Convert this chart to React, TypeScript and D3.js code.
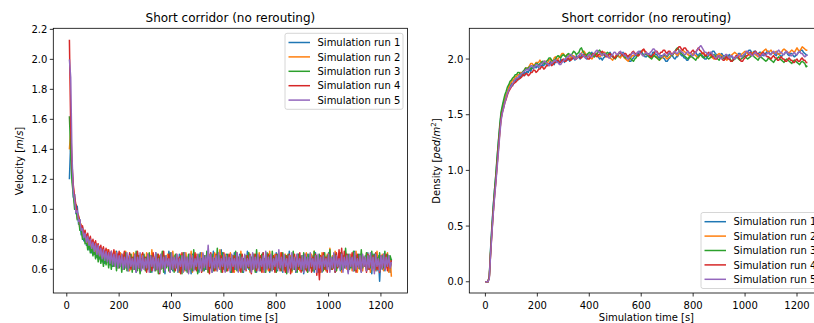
import React from "react";
import * as d3 from "d3";

// ---------- DATA ----------
const runNames = ["Simulation run 1", "Simulation run 2", "Simulation run 3", "Simulation run 4", "Simulation run 5"];
const runColors = ["#1f77b4", "#ff7f0e", "#2ca02c", "#d62728", "#9467bd"];

// velocity [m/s] sampled every 5 s starting at t = 10 s
const velocityStart = 10;
const velocityStep = 5;
const velocityRun1 = [
  1.20, 1.45, 1.28, 1.08, 1.10, 0.97, 1.02, 0.90, 0.93, 0.83, 0.88, 0.79, 0.85, 0.76, 0.81, 0.73, 0.79, 0.71, 0.78, 0.70,
  0.76, 0.68, 0.75, 0.67, 0.74, 0.65, 0.73, 0.64, 0.72, 0.66, 0.70, 0.63, 0.71, 0.62, 0.69, 0.64, 0.72, 0.61, 0.70, 0.63,
  0.69, 0.60, 0.71, 0.62, 0.68, 0.59, 0.70, 0.63, 0.67, 0.60, 0.69, 0.58, 0.71, 0.61, 0.68, 0.60, 0.70, 0.62, 0.67, 0.59,
  0.70, 0.61, 0.68, 0.58, 0.69, 0.62, 0.71, 0.60, 0.67, 0.59, 0.70, 0.61, 0.68, 0.57, 0.69, 0.62, 0.72, 0.60, 0.66, 0.59,
  0.69, 0.61, 0.67, 0.58, 0.70, 0.62, 0.68, 0.60, 0.71, 0.59, 0.67, 0.61, 0.69, 0.57, 0.70, 0.62, 0.66, 0.60, 0.68, 0.58,
  0.71, 0.61, 0.67, 0.59, 0.69, 0.62, 0.70, 0.60, 0.68, 0.58, 0.72, 0.61, 0.67, 0.59, 0.69, 0.62, 0.73, 0.60, 0.68, 0.59,
  0.70, 0.62, 0.67, 0.58, 0.69, 0.61, 0.71, 0.60, 0.68, 0.59, 0.70, 0.62, 0.66, 0.58, 0.69, 0.61, 0.72, 0.60, 0.67, 0.59,
  0.70, 0.61, 0.68, 0.58, 0.69, 0.62, 0.67, 0.60, 0.71, 0.59, 0.68, 0.61, 0.70, 0.58, 0.67, 0.62, 0.69, 0.60, 0.71, 0.59,
  0.68, 0.61, 0.70, 0.58, 0.67, 0.62, 0.69, 0.60, 0.72, 0.59, 0.68, 0.61, 0.66, 0.58, 0.70, 0.62, 0.68, 0.60, 0.69, 0.57,
  0.67, 0.61, 0.70, 0.59, 0.68, 0.62, 0.69, 0.58, 0.71, 0.60, 0.67, 0.61, 0.69, 0.58, 0.70, 0.62, 0.68, 0.59, 0.71, 0.60,
  0.67, 0.62, 0.70, 0.58, 0.68, 0.61, 0.69, 0.59, 0.71, 0.60, 0.68, 0.62, 0.70, 0.58, 0.67, 0.61, 0.69, 0.59, 0.72, 0.60,
  0.68, 0.61, 0.70, 0.58, 0.67, 0.62, 0.69, 0.59, 0.71, 0.60, 0.68, 0.57, 0.70, 0.61, 0.66, 0.59, 0.69, 0.52, 0.68, 0.60,
  0.70, 0.59, 0.68, 0.61, 0.69, 0.58, 0.67];
const velocityRun2 = [
  1.40, 1.52, 1.24, 1.14, 1.04, 1.02, 0.94, 0.96, 0.87, 0.90, 0.82, 0.86, 0.79, 0.83, 0.76, 0.81, 0.74, 0.79, 0.72, 0.78,
  0.70, 0.77, 0.68, 0.75, 0.66, 0.74, 0.67, 0.72, 0.64, 0.73, 0.65, 0.71, 0.63, 0.70, 0.62, 0.72, 0.64, 0.69, 0.61, 0.71,
  0.62, 0.70, 0.60, 0.72, 0.63, 0.68, 0.59, 0.70, 0.62, 0.71, 0.60, 0.67, 0.61, 0.69, 0.58, 0.70, 0.62, 0.68, 0.60, 0.71,
  0.61, 0.69, 0.59, 0.73, 0.62, 0.68, 0.60, 0.70, 0.58, 0.69, 0.61, 0.71, 0.60, 0.67, 0.62, 0.70, 0.59, 0.68, 0.61, 0.72,
  0.60, 0.69, 0.62, 0.67, 0.58, 0.70, 0.61, 0.68, 0.59, 0.71, 0.62, 0.69, 0.60, 0.72, 0.58, 0.68, 0.61, 0.70, 0.60, 0.67,
  0.62, 0.71, 0.59, 0.69, 0.61, 0.68, 0.58, 0.70, 0.62, 0.67, 0.60, 0.71, 0.59, 0.69, 0.61, 0.73, 0.60, 0.68, 0.62, 0.70,
  0.59, 0.67, 0.61, 0.71, 0.60, 0.69, 0.58, 0.70, 0.62, 0.68, 0.59, 0.72, 0.61, 0.67, 0.60, 0.69, 0.62, 0.71, 0.58, 0.68,
  0.61, 0.70, 0.59, 0.68, 0.62, 0.71, 0.60, 0.69, 0.58, 0.67, 0.61, 0.70, 0.59, 0.72, 0.62, 0.68, 0.60, 0.70, 0.58, 0.69,
  0.62, 0.71, 0.60, 0.68, 0.59, 0.70, 0.61, 0.67, 0.62, 0.69, 0.58, 0.71, 0.60, 0.68, 0.61, 0.70, 0.59, 0.67, 0.62, 0.69,
  0.60, 0.71, 0.58, 0.68, 0.61, 0.70, 0.59, 0.72, 0.62, 0.67, 0.60, 0.69, 0.58, 0.71, 0.61, 0.68, 0.59, 0.70, 0.62, 0.74,
  0.60, 0.69, 0.61, 0.72, 0.59, 0.68, 0.62, 0.70, 0.58, 0.69, 0.61, 0.71, 0.60, 0.67, 0.62, 0.70, 0.59, 0.68, 0.61, 0.72,
  0.58, 0.69, 0.61, 0.70, 0.59, 0.68, 0.62, 0.71, 0.60, 0.67, 0.58, 0.70, 0.61, 0.69, 0.59, 0.72, 0.60, 0.68, 0.62, 0.70,
  0.59, 0.69, 0.61, 0.71, 0.58, 0.68, 0.55];
const velocityRun3 = [
  1.62, 1.38, 1.18, 1.10, 1.00, 1.03, 0.93, 0.95, 0.86, 0.88, 0.80, 0.84, 0.77, 0.80, 0.73, 0.78, 0.71, 0.76, 0.69, 0.74,
  0.67, 0.73, 0.65, 0.72, 0.64, 0.70, 0.62, 0.71, 0.63, 0.69, 0.61, 0.70, 0.60, 0.68, 0.62, 0.69, 0.59, 0.70, 0.61, 0.68,
  0.58, 0.69, 0.60, 0.71, 0.59, 0.67, 0.61, 0.70, 0.58, 0.68, 0.60, 0.72, 0.59, 0.69, 0.57, 0.67, 0.61, 0.70, 0.59, 0.68,
  0.60, 0.71, 0.58, 0.69, 0.61, 0.67, 0.59, 0.70, 0.57, 0.68, 0.60, 0.72, 0.58, 0.69, 0.61, 0.67, 0.59, 0.71, 0.60, 0.68,
  0.58, 0.70, 0.61, 0.67, 0.59, 0.69, 0.57, 0.71, 0.60, 0.68, 0.58, 0.70, 0.61, 0.67, 0.59, 0.73, 0.60, 0.68, 0.57, 0.70,
  0.61, 0.67, 0.59, 0.69, 0.60, 0.72, 0.58, 0.68, 0.61, 0.70, 0.59, 0.67, 0.60, 0.74, 0.62, 0.69, 0.58, 0.71, 0.60, 0.68,
  0.59, 0.70, 0.61, 0.67, 0.58, 0.69, 0.60, 0.72, 0.59, 0.68, 0.61, 0.70, 0.58, 0.67, 0.60, 0.69, 0.61, 0.71, 0.59, 0.68,
  0.60, 0.70, 0.58, 0.73, 0.61, 0.68, 0.59, 0.70, 0.60, 0.67, 0.58, 0.71, 0.61, 0.69, 0.59, 0.72, 0.60, 0.68, 0.58, 0.70,
  0.61, 0.67, 0.59, 0.71, 0.60, 0.69, 0.57, 0.70, 0.61, 0.68, 0.59, 0.72, 0.60, 0.67, 0.58, 0.70, 0.61, 0.69, 0.59, 0.71,
  0.60, 0.68, 0.58, 0.70, 0.61, 0.67, 0.59, 0.72, 0.60, 0.69, 0.58, 0.70, 0.61, 0.68, 0.59, 0.71, 0.60, 0.69, 0.62, 0.73,
  0.60, 0.68, 0.61, 0.70, 0.59, 0.67, 0.62, 0.71, 0.60, 0.69, 0.61, 0.74, 0.62, 0.70, 0.60, 0.68, 0.61, 0.72, 0.59, 0.69,
  0.62, 0.70, 0.60, 0.73, 0.61, 0.68, 0.62, 0.71, 0.60, 0.69, 0.61, 0.72, 0.62, 0.70, 0.60, 0.68, 0.61, 0.71, 0.62, 0.69,
  0.61, 0.72, 0.62, 0.70, 0.63, 0.69, 0.66];
const velocityRun4 = [
  2.13, 1.55, 1.30, 1.16, 1.08, 1.03, 0.98, 0.95, 0.92, 0.88, 0.89, 0.83, 0.86, 0.80, 0.84, 0.78, 0.82, 0.76, 0.80, 0.75,
  0.79, 0.73, 0.77, 0.72, 0.76, 0.70, 0.75, 0.69, 0.74, 0.68, 0.73, 0.67, 0.72, 0.66, 0.73, 0.65, 0.71, 0.66, 0.72, 0.64,
  0.70, 0.62, 0.72, 0.63, 0.69, 0.61, 0.71, 0.60, 0.68, 0.62, 0.70, 0.59, 0.72, 0.61, 0.69, 0.60, 0.71, 0.62, 0.68, 0.58,
  0.70, 0.61, 0.69, 0.59, 0.71, 0.62, 0.68, 0.60, 0.70, 0.57, 0.69, 0.61, 0.72, 0.60, 0.68, 0.62, 0.70, 0.58, 0.69, 0.61,
  0.67, 0.59, 0.70, 0.62, 0.68, 0.57, 0.71, 0.60, 0.69, 0.61, 0.67, 0.58, 0.70, 0.62, 0.68, 0.60, 0.71, 0.59, 0.69, 0.61,
  0.67, 0.58, 0.70, 0.62, 0.68, 0.60, 0.69, 0.57, 0.71, 0.61, 0.68, 0.59, 0.70, 0.62, 0.67, 0.60, 0.69, 0.58, 0.71, 0.61,
  0.68, 0.59, 0.70, 0.62, 0.67, 0.58, 0.69, 0.61, 0.71, 0.60, 0.68, 0.58, 0.70, 0.62, 0.67, 0.59, 0.69, 0.61, 0.70, 0.57,
  0.68, 0.61, 0.70, 0.59, 0.67, 0.62, 0.69, 0.58, 0.71, 0.60, 0.68, 0.61, 0.70, 0.59, 0.67, 0.62, 0.69, 0.58, 0.70, 0.61,
  0.68, 0.59, 0.71, 0.62, 0.67, 0.58, 0.69, 0.60, 0.70, 0.57, 0.68, 0.61, 0.70, 0.59, 0.69, 0.60, 0.71, 0.58, 0.68, 0.61,
  0.70, 0.59, 0.67, 0.60, 0.69, 0.58, 0.68, 0.61, 0.70, 0.56, 0.67, 0.53, 0.69, 0.59, 0.71, 0.60, 0.68, 0.58, 0.70, 0.61,
  0.67, 0.60, 0.69, 0.58, 0.71, 0.61, 0.73, 0.62, 0.74, 0.60, 0.72, 0.61, 0.70, 0.59, 0.68, 0.62, 0.71, 0.60, 0.69, 0.58,
  0.70, 0.61, 0.68, 0.59, 0.69, 0.62, 0.67, 0.58, 0.70, 0.60, 0.68, 0.61, 0.69, 0.59, 0.71, 0.60, 0.67, 0.58, 0.69, 0.61,
  0.68, 0.60, 0.70, 0.59, 0.67, 0.61, 0.66];
const velocityRun5 = [
  2.00, 1.88, 1.35, 1.12, 1.06, 0.98, 0.99, 0.92, 0.93, 0.86, 0.87, 0.81, 0.84, 0.78, 0.82, 0.76, 0.80, 0.74, 0.78, 0.72,
  0.77, 0.70, 0.76, 0.69, 0.74, 0.67, 0.73, 0.66, 0.72, 0.65, 0.71, 0.64, 0.72, 0.63, 0.70, 0.62, 0.71, 0.61, 0.69, 0.62,
  0.70, 0.60, 0.68, 0.61, 0.71, 0.59, 0.69, 0.62, 0.67, 0.60, 0.70, 0.58, 0.68, 0.61, 0.71, 0.59, 0.69, 0.60, 0.67, 0.61,
  0.70, 0.58, 0.69, 0.62, 0.68, 0.59, 0.71, 0.60, 0.67, 0.58, 0.70, 0.61, 0.68, 0.59, 0.69, 0.62, 0.67, 0.58, 0.71, 0.60,
  0.68, 0.61, 0.70, 0.59, 0.67, 0.62, 0.69, 0.58, 0.71, 0.60, 0.68, 0.57, 0.70, 0.61, 0.69, 0.59, 0.67, 0.62, 0.70, 0.60,
  0.68, 0.59, 0.71, 0.61, 0.69, 0.60, 0.76, 0.62, 0.70, 0.58, 0.68, 0.61, 0.69, 0.59, 0.71, 0.60, 0.67, 0.62, 0.70, 0.58,
  0.69, 0.61, 0.68, 0.59, 0.70, 0.62, 0.67, 0.60, 0.71, 0.58, 0.69, 0.61, 0.68, 0.59, 0.70, 0.60, 0.67, 0.62, 0.69, 0.58,
  0.71, 0.60, 0.68, 0.61, 0.70, 0.59, 0.67, 0.62, 0.69, 0.58, 0.72, 0.60, 0.68, 0.61, 0.70, 0.59, 0.67, 0.62, 0.69, 0.60,
  0.73, 0.61, 0.68, 0.59, 0.70, 0.62, 0.67, 0.58, 0.69, 0.61, 0.71, 0.60, 0.68, 0.59, 0.70, 0.62, 0.67, 0.60, 0.69, 0.58,
  0.70, 0.61, 0.68, 0.59, 0.71, 0.62, 0.67, 0.60, 0.69, 0.58, 0.70, 0.61, 0.68, 0.59, 0.69, 0.62, 0.67, 0.60, 0.70, 0.58,
  0.68, 0.61, 0.71, 0.59, 0.69, 0.62, 0.67, 0.60, 0.70, 0.58, 0.68, 0.61, 0.69, 0.57, 0.70, 0.62, 0.68, 0.59, 0.71, 0.60,
  0.67, 0.61, 0.69, 0.58, 0.70, 0.62, 0.68, 0.59, 0.69, 0.61, 0.71, 0.60, 0.68, 0.57, 0.70, 0.62, 0.67, 0.59, 0.69, 0.61,
  0.70, 0.60, 0.68, 0.62, 0.69, 0.61, 0.65];

// density [ped/m^2] sampled every 5 s starting at t = 0 s
const densityStart = 0;
const densityStep = 5;
const densityRun1 = [
  0, 0, 0, 0.05, 0.30, 0.50, 0.68, 0.82, 0.95, 1.10, 1.25, 1.38, 1.50, 1.55, 1.61, 1.63, 1.68, 1.70, 1.74, 1.75,
  1.78, 1.76, 1.81, 1.80, 1.83, 1.81, 1.85, 1.83, 1.87, 1.85, 1.89, 1.86, 1.89, 1.88, 1.91, 1.89, 1.93, 1.91, 1.94, 1.92,
  1.94, 1.92, 1.96, 1.93, 1.95, 1.94, 1.97, 1.95, 1.96, 1.94, 1.98, 1.96, 1.97, 1.95, 1.99, 1.97, 1.98, 1.96, 2.00, 1.98,
  1.99, 1.97, 2.01, 1.99, 2.00, 1.98, 2.02, 2.00, 2.01, 1.99, 2.03, 2.01, 2.02, 2.00, 2.04, 2.02, 2.03, 2.01, 2.00, 2.02,
  2.03, 2.05, 2.06, 2.03, 2.02, 2.04, 2.05, 2.02, 2.00, 2.01, 1.99, 2.01, 2.02, 2.04, 2.03, 2.05, 2.06, 2.04, 2.03, 2.01,
  2.01, 2.03, 2.04, 2.02, 2.02, 2.05, 2.06, 2.04, 2.03, 2.01, 2.00, 1.98, 1.98, 2.00, 2.01, 2.03, 2.03, 2.05, 2.05, 2.07,
  2.07, 2.05, 2.04, 2.02, 2.02, 2.04, 2.05, 2.03, 2.03, 2.06, 2.06, 2.04, 2.04, 2.02, 2.01, 2.03, 2.03, 2.01, 2.00, 1.98,
  1.98, 2.00, 2.01, 2.03, 2.03, 2.01, 2.00, 2.02, 2.02, 2.05, 2.05, 2.03, 2.03, 2.01, 2.01, 1.99, 1.99, 2.01, 2.02, 2.04,
  2.04, 2.06, 2.06, 2.04, 2.03, 2.05, 2.05, 2.03, 2.02, 2.00, 2.00, 2.02, 2.03, 2.05, 2.05, 2.07, 2.07, 2.05, 2.04, 2.02,
  2.02, 2.04, 2.05, 2.03, 2.03, 2.01, 2.01, 2.03, 2.04, 2.02, 2.02, 2.00, 2.00, 2.02, 2.03, 2.05, 2.05, 2.03, 2.02, 2.04,
  2.04, 2.06, 2.06, 2.08, 2.08, 2.06, 2.05, 2.07, 2.07, 2.05, 2.04, 2.06, 2.06, 2.04, 2.03, 2.05, 2.05, 2.07, 2.07, 2.05,
  2.04, 2.06, 2.06, 2.04, 2.03, 2.05, 2.05, 2.03, 2.02, 2.04, 2.04, 2.06, 2.06, 2.04, 2.03, 2.05, 2.05, 2.03, 2.02, 2.03,
  2.04, 2.06, 2.06, 2.08, 2.08, 2.06, 2.05, 2.04, 2.03];
const densityRun2 = [
  0, 0, 0, 0.04, 0.26, 0.45, 0.62, 0.77, 0.90, 1.05, 1.18, 1.33, 1.46, 1.53, 1.58, 1.64, 1.68, 1.70, 1.75, 1.78,
  1.79, 1.81, 1.82, 1.84, 1.84, 1.86, 1.86, 1.88, 1.88, 1.88, 1.90, 1.92, 1.92, 1.92, 1.94, 1.96, 1.96, 1.94, 1.95, 1.97,
  1.97, 1.97, 1.99, 1.97, 1.96, 1.98, 1.98, 1.96, 1.97, 1.99, 2.00, 1.98, 1.98, 2.01, 2.02, 2.00, 2.00, 2.02, 2.03, 2.05,
  2.05, 2.03, 2.02, 2.04, 2.04, 2.02, 2.01, 2.03, 2.03, 2.01, 2.00, 2.02, 2.02, 2.04, 2.05, 2.07, 2.07, 2.05, 2.04, 2.04,
  2.02, 2.01, 2.00, 2.02, 2.03, 2.05, 2.05, 2.03, 2.02, 2.03, 2.04, 2.06, 2.06, 2.04, 2.03, 2.03, 2.01, 2.00, 1.99, 2.01,
  2.02, 2.04, 2.04, 2.02, 2.01, 2.03, 2.03, 2.01, 2.00, 1.99, 1.98, 2.00, 2.01, 2.03, 2.03, 2.04, 2.05, 2.04, 2.03, 2.05,
  2.06, 2.08, 2.08, 2.06, 2.05, 2.04, 2.03, 2.02, 2.01, 2.03, 2.04, 2.02, 2.02, 2.00, 1.99, 2.00, 2.01, 2.02, 2.03, 2.01,
  2.00, 2.01, 2.02, 2.04, 2.04, 2.05, 2.06, 2.04, 2.03, 2.05, 2.05, 2.07, 2.08, 2.07, 2.06, 2.05, 2.04, 2.03, 2.02, 2.04,
  2.05, 2.04, 2.03, 2.02, 2.01, 2.03, 2.04, 2.05, 2.06, 2.04, 2.03, 2.04, 2.05, 2.03, 2.02, 2.01, 2.00, 2.02, 2.03, 2.04,
  2.05, 2.04, 2.03, 2.02, 2.01, 2.00, 1.99, 2.01, 2.02, 2.03, 2.04, 2.05, 2.06, 2.05, 2.04, 2.03, 2.02, 2.04, 2.05, 2.06,
  2.07, 2.06, 2.05, 2.04, 2.03, 2.05, 2.06, 2.05, 2.04, 2.03, 2.02, 2.04, 2.05, 2.06, 2.07, 2.08, 2.09, 2.07, 2.06, 2.07,
  2.08, 2.06, 2.05, 2.06, 2.07, 2.05, 2.04, 2.05, 2.06, 2.08, 2.09, 2.08, 2.07, 2.06, 2.05, 2.07, 2.08, 2.07, 2.06, 2.08,
  2.10, 2.08, 2.07, 2.09, 2.11, 2.10, 2.09, 2.08, 2.08];
const densityRun3 = [
  0, 0, 0, 0.05, 0.28, 0.48, 0.66, 0.82, 0.96, 1.12, 1.26, 1.40, 1.52, 1.58, 1.63, 1.68, 1.71, 1.75, 1.77, 1.80,
  1.81, 1.83, 1.84, 1.86, 1.86, 1.88, 1.88, 1.86, 1.87, 1.89, 1.90, 1.92, 1.91, 1.92, 1.93, 1.91, 1.92, 1.94, 1.94, 1.96,
  1.96, 1.94, 1.95, 1.97, 1.98, 1.96, 1.96, 1.98, 1.99, 2.01, 2.01, 1.99, 1.98, 1.99, 2.00, 2.02, 2.03, 2.02, 2.01, 2.03,
  2.04, 2.03, 2.02, 2.04, 2.05, 2.04, 2.03, 2.05, 2.07, 2.06, 2.04, 2.05, 2.06, 2.09, 2.10, 2.07, 2.05, 2.04, 2.03, 2.05,
  2.06, 2.05, 2.04, 2.03, 2.02, 2.04, 2.05, 2.07, 2.08, 2.06, 2.05, 2.04, 2.03, 2.05, 2.06, 2.05, 2.04, 2.03, 2.02, 2.01,
  2.00, 2.02, 2.03, 2.05, 2.06, 2.05, 2.04, 2.02, 2.01, 2.02, 2.03, 2.01, 2.00, 1.99, 1.98, 2.00, 2.01, 2.03, 2.04, 2.05,
  2.06, 2.04, 2.03, 2.04, 2.05, 2.03, 2.02, 2.01, 2.00, 2.02, 2.03, 2.02, 2.01, 2.00, 1.99, 2.01, 2.02, 2.03, 2.04, 2.03,
  2.02, 2.04, 2.05, 2.04, 2.03, 2.05, 2.07, 2.09, 2.10, 2.08, 2.06, 2.05, 2.04, 2.03, 2.02, 2.01, 2.00, 2.02, 2.03, 2.02,
  2.01, 2.00, 1.99, 2.01, 2.02, 2.03, 2.04, 2.02, 2.01, 2.02, 2.03, 2.01, 2.00, 2.01, 2.02, 2.03, 2.04, 2.03, 2.01, 2.00,
  1.99, 2.01, 2.02, 2.01, 2.00, 2.02, 2.03, 2.02, 2.01, 1.99, 1.98, 1.99, 2.00, 2.01, 2.02, 2.00, 1.99, 2.00, 2.01, 2.02,
  2.03, 2.01, 2.00, 2.01, 2.02, 2.03, 2.04, 2.02, 2.01, 2.00, 1.99, 2.01, 2.02, 2.01, 2.00, 1.99, 1.98, 1.99, 2.01, 2.00,
  1.99, 1.98, 1.97, 1.99, 2.00, 2.01, 2.02, 2.00, 1.99, 1.98, 1.97, 1.99, 2.00, 1.99, 1.98, 1.97, 1.96, 1.98, 1.99, 1.98,
  1.97, 1.96, 1.95, 1.97, 1.98, 1.97, 1.96, 1.93, 1.94];
const densityRun4 = [
  0, 0, 0, 0.04, 0.25, 0.44, 0.62, 0.77, 0.90, 1.05, 1.20, 1.34, 1.46, 1.52, 1.56, 1.61, 1.64, 1.68, 1.71, 1.73,
  1.75, 1.77, 1.78, 1.79, 1.80, 1.82, 1.82, 1.83, 1.84, 1.86, 1.85, 1.87, 1.87, 1.85, 1.86, 1.88, 1.88, 1.90, 1.90, 1.88,
  1.89, 1.91, 1.91, 1.93, 1.93, 1.91, 1.92, 1.94, 1.94, 1.96, 1.96, 1.94, 1.95, 1.97, 1.97, 1.99, 1.99, 1.97, 1.97, 1.99,
  2.00, 1.98, 1.98, 2.00, 2.01, 1.99, 1.99, 2.01, 2.02, 2.00, 2.00, 2.02, 2.03, 2.01, 2.01, 2.03, 2.04, 2.02, 2.02, 2.00,
  2.00, 2.02, 2.03, 2.05, 2.05, 2.03, 2.02, 2.04, 2.04, 2.06, 2.07, 2.05, 2.04, 2.02, 2.02, 2.04, 2.05, 2.03, 2.03, 2.01,
  2.01, 2.03, 2.04, 2.06, 2.06, 2.04, 2.03, 2.05, 2.05, 2.03, 2.02, 2.04, 2.04, 2.06, 2.07, 2.05, 2.05, 2.03, 2.03, 2.05,
  2.06, 2.08, 2.09, 2.07, 2.06, 2.04, 2.04, 2.02, 2.02, 2.04, 2.05, 2.07, 2.07, 2.05, 2.04, 2.06, 2.06, 2.08, 2.08, 2.06,
  2.05, 2.07, 2.07, 2.05, 2.04, 2.06, 2.06, 2.08, 2.09, 2.11, 2.11, 2.09, 2.08, 2.10, 2.10, 2.08, 2.07, 2.05, 2.05, 2.07,
  2.08, 2.06, 2.06, 2.08, 2.10, 2.08, 2.07, 2.05, 2.05, 2.03, 2.03, 2.05, 2.06, 2.04, 2.04, 2.02, 2.02, 2.00, 2.00, 2.02,
  2.03, 2.01, 2.01, 1.99, 1.99, 2.01, 2.02, 2.00, 2.00, 1.98, 1.98, 2.00, 2.01, 2.03, 2.03, 2.01, 2.00, 1.98, 1.98, 2.00,
  2.01, 2.03, 2.03, 2.05, 2.06, 2.04, 2.04, 2.06, 2.07, 2.05, 2.05, 2.03, 2.03, 2.05, 2.06, 2.04, 2.04, 2.02, 2.02, 2.01,
  2.00, 2.02, 2.03, 2.01, 2.01, 1.99, 1.99, 2.01, 2.02, 2.00, 2.00, 1.98, 1.98, 2.00, 2.01, 1.99, 1.99, 1.97, 1.97, 1.99,
  2.00, 1.98, 1.98, 2.00, 2.01, 1.99, 1.99, 1.97, 1.97];
const densityRun5 = [
  0, 0, 0, 0.03, 0.24, 0.43, 0.60, 0.75, 0.88, 1.02, 1.16, 1.31, 1.44, 1.51, 1.56, 1.61, 1.65, 1.69, 1.72, 1.74,
  1.76, 1.78, 1.80, 1.82, 1.83, 1.83, 1.85, 1.86, 1.87, 1.88, 1.89, 1.90, 1.91, 1.90, 1.92, 1.94, 1.94, 1.92, 1.93, 1.95,
  1.95, 1.93, 1.94, 1.96, 1.96, 1.98, 1.98, 1.96, 1.96, 1.94, 1.95, 1.97, 1.97, 1.99, 1.99, 1.97, 1.97, 1.95, 1.95, 1.97,
  1.98, 2.00, 2.00, 2.02, 2.02, 2.04, 2.04, 2.02, 2.02, 2.00, 2.00, 2.02, 2.03, 2.05, 2.05, 2.03, 2.03, 2.01, 2.01, 2.03,
  2.04, 2.02, 2.02, 2.04, 2.05, 2.07, 2.08, 2.06, 2.06, 2.04, 2.03, 2.05, 2.05, 2.03, 2.03, 2.01, 2.01, 2.03, 2.04, 2.06,
  2.06, 2.04, 2.04, 2.06, 2.07, 2.05, 2.05, 2.03, 2.03, 2.01, 2.00, 2.02, 2.03, 2.05, 2.06, 2.04, 2.04, 2.06, 2.07, 2.05,
  2.05, 2.03, 2.03, 2.05, 2.06, 2.04, 2.04, 2.06, 2.07, 2.09, 2.09, 2.07, 2.06, 2.04, 2.04, 2.02, 2.02, 2.04, 2.05, 2.03,
  2.03, 2.05, 2.06, 2.04, 2.04, 2.06, 2.07, 2.05, 2.05, 2.07, 2.08, 2.06, 2.06, 2.04, 2.04, 2.06, 2.07, 2.05, 2.05, 2.03,
  2.03, 2.05, 2.06, 2.08, 2.09, 2.11, 2.12, 2.10, 2.08, 2.06, 2.06, 2.04, 2.04, 2.06, 2.06, 2.04, 2.03, 2.01, 2.01, 2.03,
  2.03, 2.01, 2.00, 2.02, 2.02, 2.04, 2.04, 2.02, 2.01, 2.03, 2.03, 2.01, 2.00, 2.02, 2.02, 2.04, 2.04, 2.02, 2.02, 2.04,
  2.05, 2.07, 2.07, 2.05, 2.05, 2.03, 2.03, 2.05, 2.06, 2.04, 2.04, 2.02, 2.02, 2.04, 2.05, 2.03, 2.03, 2.05, 2.06, 2.04,
  2.04, 2.06, 2.07, 2.05, 2.05, 2.07, 2.08, 2.06, 2.06, 2.04, 2.04, 2.06, 2.07, 2.05, 2.05, 2.03, 2.03, 2.05, 2.06, 2.04,
  2.04, 2.06, 2.07, 2.05, 2.05, 2.03, 2.02, 2.03, 2.04];

const xTicks = [0, 200, 400, 600, 800, 1000, 1200];
const velocityTicks = [0.6, 0.8, 1.0, 1.2, 1.4, 1.6, 1.8, 2.0, 2.2];
const densityTicks = [0.0, 0.5, 1.0, 1.5, 2.0];

const titleText = "Short corridor (no rerouting)";
const xLabelText = "Simulation time [s]";

const velocitySeries = [velocityRun1, velocityRun2, velocityRun3, velocityRun4, velocityRun5];
const densitySeries = [densityRun1, densityRun2, densityRun3, densityRun4, densityRun5];

const FONT = "DejaVu Sans, sans-serif";

function Panel({ left, top, width, height, xDomain, yDomain, yTicks, series, start, step, yLabel, legendPos, clipId }) {
  const x = d3.scaleLinear().domain(xDomain).range([left, left + width]);
  const y = d3.scaleLinear().domain(yDomain).range([top + height, top]);
  const line = d3.line<number>().x((_, i) => x(start + i * step)).y((d) => y(d));
  const bottom = top + height;
  const legendW = 118;
  const legendH = 76;
  const lx = left + width - 4.5 - legendW;
  const ly = legendPos === "upper" ? top + 5 : bottom - 4.5 - legendH;
  return (
    <g>
      <defs>
        <clipPath id={clipId}>
          <rect x={left} y={top} width={width} height={height} />
        </clipPath>
      </defs>
      <g clipPath={`url(#${clipId})`}>
        {series.map((s, k) => (
          <path key={k} d={line(s) || ""} fill="none" stroke={runColors[k]} strokeWidth={1.5} strokeLinejoin="round" />
        ))}
      </g>
      <rect x={left} y={top} width={width} height={height} fill="none" stroke="#000" strokeWidth={0.8} />
      {xTicks.map((t) => (
        <g key={t}>
          <line x1={x(t)} x2={x(t)} y1={bottom} y2={bottom + 3.5} stroke="#000" strokeWidth={0.8} />
          <text x={x(t)} y={bottom + 16} fontSize={10} textAnchor="middle" fontFamily={FONT} fill="#000">{t}</text>
        </g>
      ))}
      {yTicks.map((t) => (
        <g key={t}>
          <line x1={left - 3.5} x2={left} y1={y(t)} y2={y(t)} stroke="#000" strokeWidth={0.8} />
          <text x={left - 6} y={y(t) + 3.6} fontSize={10} textAnchor="end" fontFamily={FONT} fill="#000">{t.toFixed(1)}</text>
        </g>
      ))}
      <text x={left + width / 2} y={top - 6.5} fontSize={12} textAnchor="middle" fontFamily={FONT} fill="#000">{titleText}</text>
      <text x={left + width / 2} y={bottom + 27.5} fontSize={10} textAnchor="middle" fontFamily={FONT} fill="#000">{xLabelText}</text>
      {yLabel}
      <g>
        <rect x={lx} y={ly} width={legendW} height={legendH} rx={2} fill="#fff" fillOpacity={0.8} stroke="#cccccc" strokeWidth={0.8} />
        {runNames.map((n, k) => (
          <g key={n}>
            <line x1={lx + 3.5} x2={lx + 25} y1={ly + 9.2 + k * 14.4} y2={ly + 9.2 + k * 14.4} stroke={runColors[k]} strokeWidth={1.5} />
            <text x={lx + 32.5} y={ly + 12.8 + k * 14.4} fontSize={10} fontFamily={FONT} fill="#000">{n}</text>
          </g>
        ))}
      </g>
    </g>
  );
}

export default function App() {
  const top = 28.3;
  const height = 264.7;
  const width = 354.2;
  return (
    <svg width={814} height={323} style={{ position: "fixed", left: 0, top: 0, background: "#fff" }}>
      <rect x={0} y={0} width={814} height={323} fill="#fff" />
      <Panel
        clipId="clipV"
        left={53.3}
        top={top}
        width={width}
        height={height}
        xDomain={[-51.5, 1301.5]}
        yDomain={[0.442, 2.207]}
        yTicks={velocityTicks}
        series={velocitySeries}
        start={velocityStart}
        step={velocityStep}
        legendPos="upper"
        yLabel={
          <text transform="translate(22.5,161) rotate(-90)" fontSize={10} textAnchor="middle" fontFamily={FONT} fill="#000">
            Velocity [<tspan fontStyle="italic">m</tspan>/<tspan fontStyle="italic">s</tspan>]
          </text>
        }
      />
      <Panel
        clipId="clipD"
        left={469.3}
        top={top}
        width={width}
        height={height}
        xDomain={[-62, 1302]}
        yDomain={[-0.101, 2.276]}
        yTicks={densityTicks}
        series={densitySeries}
        start={densityStart}
        step={densityStep}
        legendPos="lower"
        yLabel={
          <text transform="translate(439.5,161) rotate(-90)" fontSize={10} textAnchor="middle" fontFamily={FONT} fill="#000">
            Density [<tspan fontStyle="italic">ped</tspan>/<tspan fontStyle="italic">m</tspan><tspan fontSize={7} dy={-4}>2</tspan><tspan dy={4}>]</tspan>
          </text>
        }
      />
    </svg>
  );
}
